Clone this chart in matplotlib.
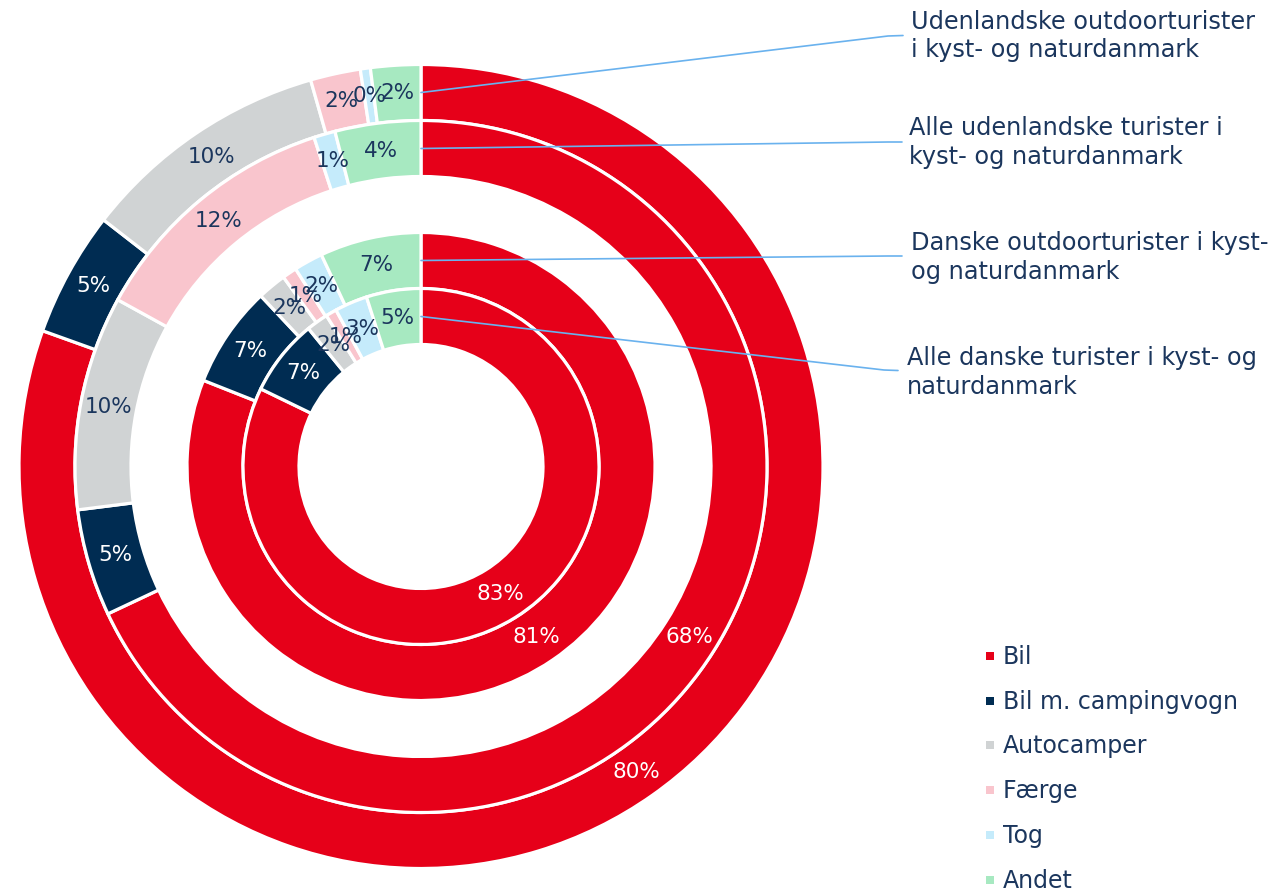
import math
import matplotlib
matplotlib.use("Agg")
import matplotlib.pyplot as plt

W, H = 1271, 891

categories = ["Bil", "Bil m. campingvogn", "Autocamper", "Færge", "Tog", "Andet"]
colors = ["#E60019", "#002C52", "#D0D3D4", "#F9C5CD", "#C5EBFB", "#A7E9C1"]

series_names = [
    "Udenlandske outdoorturister\ni kyst- og naturdanmark",
    "Alle udenlandske turister i\nkyst- og naturdanmark",
    "Danske outdoorturister i kyst-\nog naturdanmark",
    "Alle danske turister i kyst- og\nnaturdanmark",
]
udenl_outdoor = [80, 5, 10, 2, 0.4, 2]
alle_udenl = [68, 5, 10, 12, 1, 4]
danske_outdoor = [81, 7, 2, 1, 2, 7]
alle_danske = [83, 7, 2, 1, 3, 5]
series_values = [udenl_outdoor, alle_udenl, danske_outdoor, alle_danske]

TXT = "#1B365D"
LINE = "#6AB2EE"

fig = plt.figure(figsize=(W / 100, H / 100), dpi=100)
ax = fig.add_axes([0, 0, 1, 1])

cx, cy = 421, H - 466.5
ring_w = 56
radii = [402, 346, 234, 178]

def Y(y):
    return H - y

for vals, R in zip(series_values, radii):
    wedges, _ = ax.pie(vals, radius=R, startangle=90, counterclock=False,
                       colors=colors, center=(cx, cy),
                       wedgeprops=dict(width=ring_w, edgecolor="white", linewidth=2.3))
    for w, v, col in zip(wedges, vals, colors):
        mid = math.radians((w.theta1 + w.theta2) / 2)
        rm = w.r - w.width / 2
        x = cx + rm * math.cos(mid)
        y = cy + rm * math.sin(mid)
        tc = "white" if col in ("#E60019", "#002C52") else TXT
        ax.text(x, y, f"{round(v)}%", ha="center", va="center", fontsize=15.5,
                color=tc, family="DejaVu Sans")

ax.set_xlim(0, W)
ax.set_ylim(0, H)
ax.set_aspect("equal")
ax.axis("off")

# series name labels with leader lines
label_pos = [(911, 36), (909, 142.5), (911, 257.5), (907, 372.5)]
line_pts = [
    [(421, 92.5), (888, 36), (903, 35.5)],
    [(421, 148.5), (888, 142), (902, 142)],
    [(421, 260.5), (888, 256), (902, 256)],
    [(421, 316.5), (884, 370), (898, 370.5)],
]
for name, (lx, ly), pts in zip(series_names, label_pos, line_pts):
    ax.plot([p[0] for p in pts], [Y(p[1]) for p in pts], color=LINE, lw=1.2,
            solid_capstyle="round", zorder=5)
    ax.text(lx, Y(ly), name, ha="left", va="center", fontsize=17.3, color=TXT,
            linespacing=1.25, family="DejaVu Sans")

# legend
leg_y = [657, 701.5, 746, 791, 836, 881]
for cat, col, ly in zip(categories, colors, leg_y):
    ax.scatter([990], [Y(ly - 1)], marker="s", s=34, color=col, linewidths=0, zorder=5)
    ax.text(1003, Y(ly), cat, ha="left", va="center", fontsize=17, color=TXT,
            family="DejaVu Sans")

fig.savefig("out.png", dpi=100)
